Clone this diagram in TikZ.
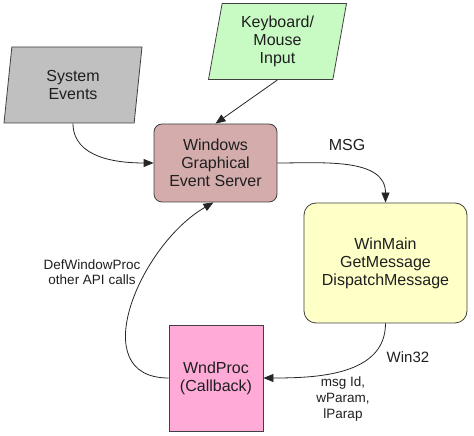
\documentclass[tikz,border=0pt]{standalone}
\usepackage{fontspec}
\setmainfont{Liberation Sans}
\usetikzlibrary{arrows.meta,shapes.geometric}
\definecolor{EventGray}{RGB}{192,192,192}
\definecolor{InputGreen}{RGB}{200,250,195}
\definecolor{ServerRose}{RGB}{212,172,172}
\definecolor{LoopYellow}{RGB}{255,255,200}
\definecolor{ProcPink}{RGB}{255,170,215}
\definecolor{EdgeGray}{RGB}{64,64,64}

\begin{document}
\begin{tikzpicture}[x=1pt, y=1pt,
  every node/.style={font=\fontsize{16}{18}\selectfont, align=center, text=black!88},
  iobox/.style={draw=EdgeGray, line width=0.8pt, trapezium, trapezium left angle=75, trapezium right angle=105, trapezium stretches body, minimum width=138pt, minimum height=76pt, inner sep=0pt},
  flow/.style={-{Triangle[length=10pt,width=8pt]}, line width=0.8pt, black!85},
  lbl/.style={font=\fontsize{13.5}{15.5}\selectfont}]
\useasboundingbox (0,0) rectangle (474,436);
\node[iobox, fill=EventGray] (sys) at (73,351) {System\\Events};
\node[iobox, fill=InputGreen] (kb) at (277.5,394.5) {Keyboard/\\Mouse\\Input};
\node[draw=EdgeGray, line width=0.8pt, fill=ServerRose, rounded corners=8pt, minimum width=123pt, minimum height=78pt] (srv) at (215.5,273) {Windows\\Graphical\\Event Server};
\node[draw=EdgeGray, line width=0.8pt, fill=LoopYellow, rounded corners=12pt, minimum width=163pt, minimum height=120pt] (main) at (385.5,173) {WinMain\\GetMessage\\DispatchMessage};
\node[draw=EdgeGray, line width=0.8pt, fill=ProcPink, minimum width=94pt, minimum height=106pt] (proc) at (216,58) {WndProc\\(Callback)};
% labels
\node (msg) at (347,291) {MSG};
\node[font=\fontsize{15}{17}\selectfont] (win) at (408,79) {Win32};
\node[lbl, font=\fontsize{13.5}{16}\selectfont] (args) at (343,37) {msg Id,\\wParam,\\lParap};
\node[lbl] (api) at (92,164) {DefWindowProc\\other API calls};
% connectors
\draw[flow] (sys.center |- sys.south) to[out=-90,in=180] (srv.west);
\draw[flow] (kb.center |- kb.south) -- (srv.north);
\draw[flow] (srv.east) to[out=0,in=90] (main.north);
\draw[flow] (main.south) to[out=-90,in=0] (proc.east);
\draw[flow] (proc.west) to[out=180,in=-150,looseness=1.2] ([xshift=-2pt]srv.south);
\end{tikzpicture}
\end{document}
